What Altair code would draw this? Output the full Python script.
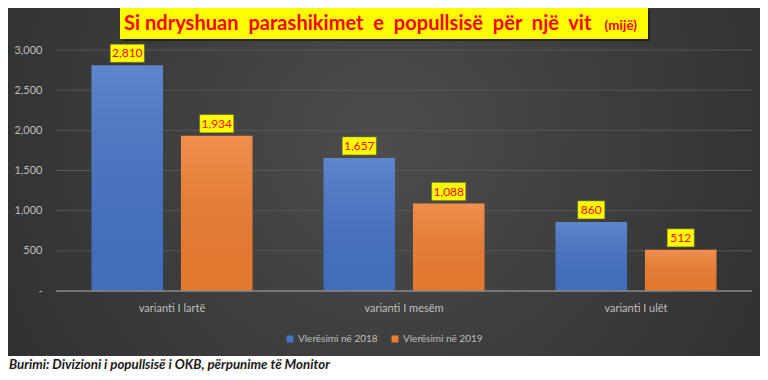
import altair as alt
import pandas as pd

categories = ["varianti I lartë", "varianti I mesëm", "varianti I ulët"]
series_names = ["Vlerësimi në 2018", "Vlerësimi në 2019"]
values_2018 = [2810, 1657, 860]
values_2019 = [1934, 1088, 512]
y_ticks = [0, 500, 1000, 1500, 2000, 2500, 3000]
title_main = "Si ndryshuan\u00a0 parashikimet\u00a0 e\u00a0 popullsisë\u00a0 për\u00a0 një\u00a0 vit"
title_unit = "(mijë)"
source_text = "Burimi: Divizioni i popullsisë i OKB, përpunime të Monitor"

rows = []
for c, a, b in zip(categories, values_2018, values_2019):
    rows.append({"category": c, "series": series_names[0], "value": a})
    rows.append({"category": c, "series": series_names[1], "value": b})
df = pd.DataFrame(rows)
ticks_df = pd.DataFrame({"tick": [t for t in y_ticks if t != 0]})

W, H = 696, 241
FONT = "Lato"
LBL = "#bfbfbf"
BLUE, ORANGE = "#4472c4", "#ed7d31"

one = alt.Data(values=[{}])

bg = alt.Chart(one).mark_rect(
    color={"gradient": "radial", "x1": 0.5, "y1": 0.45, "r1": 0, "x2": 0.5, "y2": 0.45, "r2": 0.75,
           "stops": [{"offset": 0, "color": "#4c4c4c"}, {"offset": 1, "color": "#282828"}]}
).encode(x=alt.value(-48), x2=alt.value(W + 8), y=alt.value(-42), y2=alt.value(306))

title_shadow = alt.Chart(one).mark_rect(color="#111111", opacity=0.6).encode(
    x=alt.value(66), x2=alt.value(594), y=alt.value(-40), y2=alt.value(-9))
title_box = alt.Chart(one).mark_rect(color="#ffff00").encode(
    x=alt.value(64), x2=alt.value(592), y=alt.value(-42), y2=alt.value(-11))
title_txt = alt.Chart(one).mark_text(
    align="left", baseline="alphabetic", font=FONT, fontSize=20.1, fontWeight="bold", color="#ff0000"
).encode(x=alt.value(68), y=alt.value(-20.5), text=alt.value(title_main))
title_unit_txt = alt.Chart(one).mark_text(
    align="right", baseline="alphabetic", font=FONT, fontSize=13.5, fontWeight="bold", color="#ff0000"
).encode(x=alt.value(581), y=alt.value(-20.5), text=alt.value(title_unit))

grid = alt.Chart(ticks_df).mark_rule(color="#575757", strokeWidth=1).encode(
    y=alt.Y("tick:Q", scale=alt.Scale(domain=[0, 3000], nice=False)))

x_enc = alt.X("category:N", sort=categories,
              scale=alt.Scale(paddingInner=0.306, paddingOuter=0.153),
              axis=alt.Axis(title=None, labelColor=LBL, labelFontSize=11, labelFont=FONT, labelAngle=0,
                            ticks=False, domain=False, grid=False, labelPadding=11, zindex=1))
xo_enc = alt.XOffset("series:N", sort=series_names, scale=alt.Scale(paddingInner=0.2, paddingOuter=0))
y_enc = alt.Y("value:Q", scale=alt.Scale(domain=[0, 3000], nice=False),
              axis=alt.Axis(title=None, values=y_ticks, labelColor=LBL, labelFontSize=11, labelFont=FONT,
                            ticks=False, domain=False, grid=False, labelPadding=14, zindex=1,
                            labelExpr="datum.value == 0 ? '-' : format(datum.value, ',')"))

base = alt.Chart(df)

bars = base.mark_bar().encode(
    x=x_enc, xOffset=xo_enc, y=y_enc,
    color=alt.Color("series:N", sort=series_names,
                    scale=alt.Scale(domain=series_names, range=[BLUE, ORANGE]),
                    legend=alt.Legend(title=None, orient="none", legendX=229, legendY=284,
                                      direction="horizontal", symbolType="square", symbolSize=49,
                                      symbolStrokeWidth=0, labelColor=LBL, labelFontSize=10,
                                      labelFont=FONT, columnPadding=12, labelOffset=3, padding=0)))

shine = base.mark_bar(
    color={"gradient": "linear", "x1": 0, "y1": 0, "x2": 0, "y2": 1,
           "stops": [{"offset": 0, "color": "rgba(255,255,255,0.14)"},
                     {"offset": 1, "color": "rgba(0,0,0,0.04)"}]}
).encode(x=x_enc, xOffset=xo_enc, y=y_enc)

zero = alt.Chart(one).mark_rule(color="#8a8a8a", strokeWidth=1.5).encode(
    y=alt.datum(0))

path5 = "M-17,-21L17,-21L17,-3L-17,-3Z"
path3 = "M-13.5,-21L13.5,-21L13.5,-3L-13.5,-3Z"
boxes = base.transform_calculate(
    nchar="'' + length(format(datum.value, ','))"
).mark_point(filled=True, color="#ffff00", stroke="#7a7a30", strokeWidth=0.6, opacity=1, size=4).encode(
    x=x_enc, xOffset=xo_enc, y=y_enc,
    shape=alt.Shape("nchar:N", scale=alt.Scale(domain=["3", "5"], range=[path3, path5]), legend=None))

labels = base.mark_text(dy=-12, font=FONT, fontSize=12, color="#ff0000", baseline="middle").encode(
    x=x_enc, xOffset=xo_enc, y=y_enc, text=alt.Text("value:Q", format=","))

source = alt.Chart(one).mark_text(
    align="left", baseline="alphabetic", font=FONT, fontSize=13.3, fontWeight="bold",
    fontStyle="italic", color="#1a1a1a"
).encode(x=alt.value(-47), y=alt.value(319), text=alt.value(source_text))

chart = alt.layer(
    bg, title_shadow, title_box, title_txt, title_unit_txt, grid, bars, shine, zero, boxes, labels, source
).properties(
    width=W, height=H, autosize="none",
    padding={"left": 48, "top": 42, "right": 8, "bottom": 81},
    background="white"
).configure_view(stroke=None)

chart.save("out.html", embed_options={"renderer": "svg", "actions": False})
